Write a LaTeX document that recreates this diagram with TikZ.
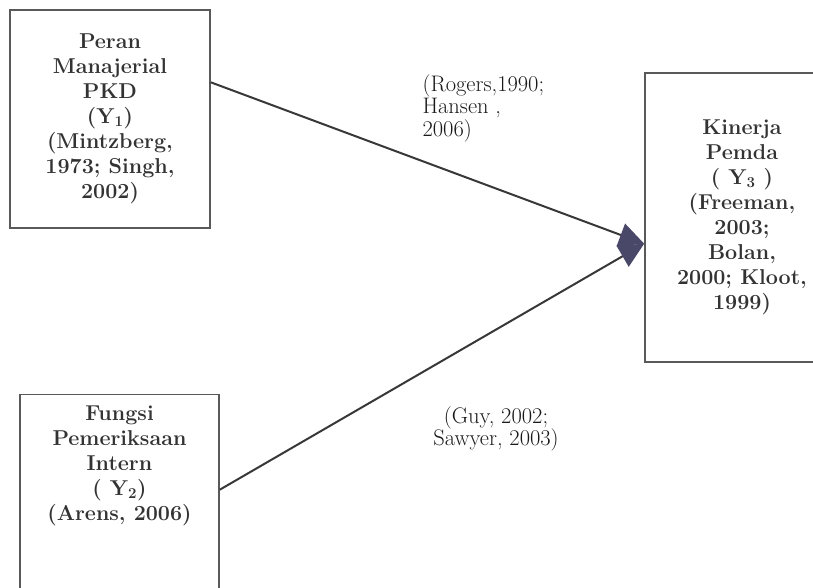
\documentclass[tikz,border=0pt]{standalone}
\usetikzlibrary{arrows.meta,positioning}
\definecolor{ujung}{RGB}{74,72,104}
\begin{document}
\begin{tikzpicture}[x=1pt,y=-1pt,
    kotak/.style={draw=black!65,line width=1.6pt,inner sep=0pt},
    teks/.style={align=center,text=black!80,font=\fontsize{21.5}{25}\selectfont\bfseries},
    sumber/.style={text=black!90,font=\fontsize{22.5}{22.5}\selectfont},
    panah/.style={draw=black!78,line width=2pt,-{Triangle[length=25pt,width=24pt,color=ujung]}}]
      \useasboundingbox (0,0) rectangle (813,588) ;
      % kotak variabel
      \node[kotak,teks,minimum width=200pt,minimum height=218pt] (peran) at (110,119) %
      {Peran\\Manajerial\\PKD\\(Y\textsubscript{1})\\(Mintzberg,\\1973; Singh,\\2002)} ;
      \node[kotak,minimum width=199pt,minimum height=215pt] (fungsi) at (119.5,502) {} ;
      \node[teks,anchor=north] (fungsiteks) at ([yshift=-9pt]fungsi.north) %
      {Fungsi\\Pemeriksaan\\Intern\\( Y\textsubscript{2})\\(Arens, 2006)} ;
      \node[kotak,teks,minimum width=194pt,minimum height=289pt] (kinerja) at (742,217.5) %
      {Kinerja\\Pemda\\( Y\textsubscript{3} )\\(Freeman,\\2003;\\Bolan,\\2000; Kloot,\\1999)} ;
      % sumber teori
      \node[sumber,align=left,anchor=west] (rogers) at (419,108) {(Rogers,1990;\\Hansen ,\\2006)} ;
      \node[sumber,align=center] (guy) at (496,429) {(Guy, 2002;\\Sawyer, 2003)} ;
      % hubungan
      \draw[panah] (peran.20) -- (kinerja.195) ;
      \draw[panah] (fungsi.7) -- (kinerja.195) ;
    \end{tikzpicture}
\end{document}
